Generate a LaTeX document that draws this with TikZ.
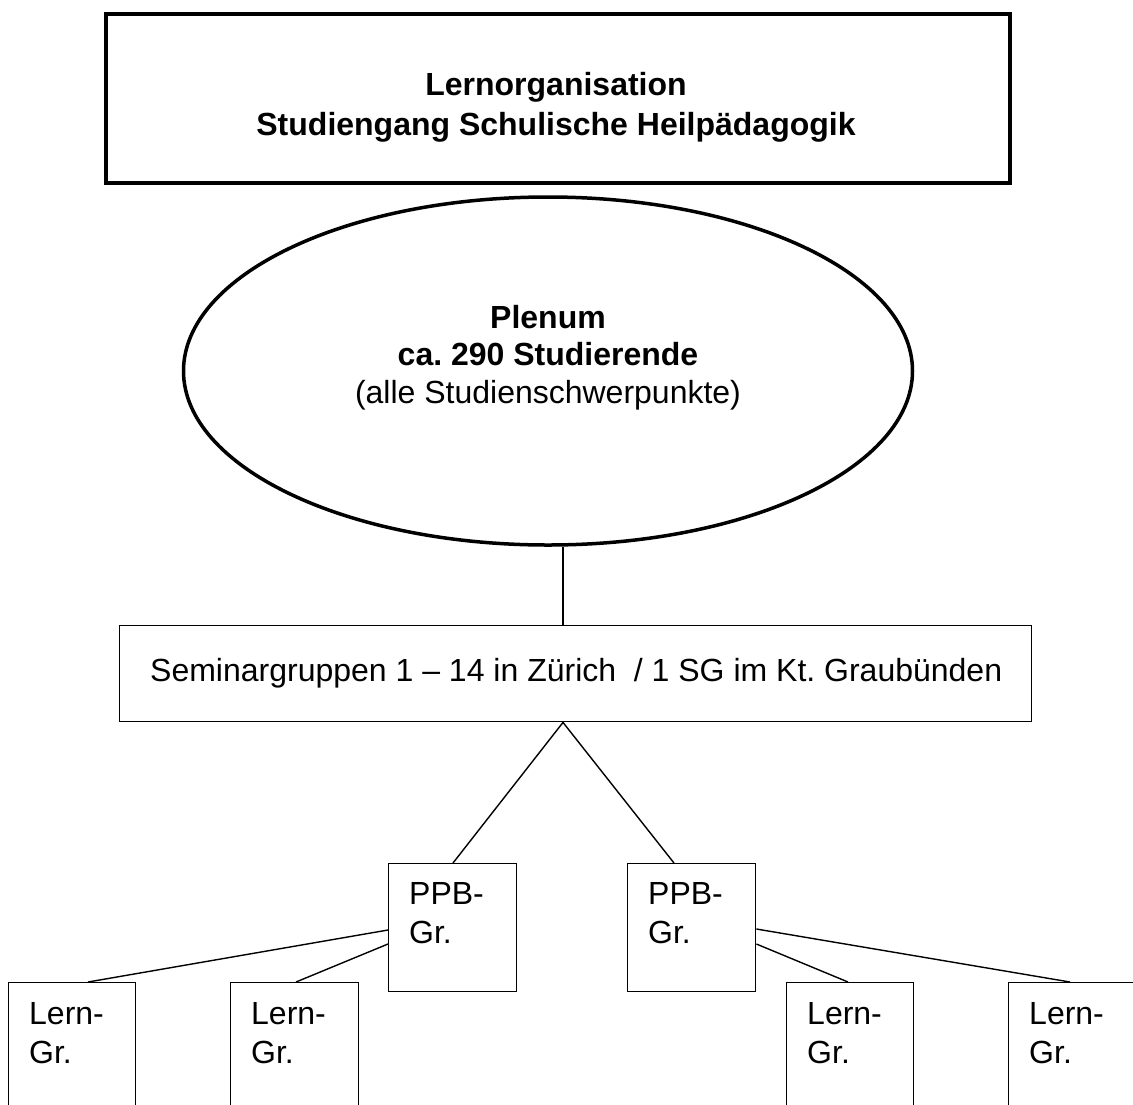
\documentclass[tikz,border=0pt]{standalone}
\usepackage{fontspec}
\setmainfont{Liberation Sans}
\usetikzlibrary{shapes.geometric,calc}
\frenchspacing
\begin{document}
\begin{tikzpicture}[x=1pt,y=-1pt,
  thinbox/.style={draw, line width=1.4pt, rectangle, inner sep=0pt, anchor=north west},
  txt/.style={font=\fontsize{32}{38.5}\selectfont, inner sep=0pt, align=left, anchor=base west},
  ctxt/.style={font=\fontsize{32}{39}\selectfont, inner sep=0pt, align=center, anchor=base},
  conn/.style={line width=1.4pt}]
\useasboundingbox (0,0) rectangle (1133,1104);
\clip (0,0) rectangle (1133,1104);
% title box
\node[draw, line width=4pt, rectangle, inner sep=0pt, anchor=north west,
      minimum width=904pt, minimum height=169pt] (title) at (104,12) {};
\node[ctxt, font=\fontsize{32}{40}\selectfont\bfseries] (titletext) at (556,135)
  {Lernorganisation\\Studiengang Schulische Heilpädagogik};
% plenum ellipse
\node[ellipse, draw, line width=3.5pt, inner sep=0pt,
      minimum width=729pt, minimum height=348pt] (plenum) at (548,371) {};
\node[ctxt, font=\fontsize{32}{37.5}\selectfont] (plenumtext) at (548,403)
  {\textbf{Plenum}\\\textbf{ca. 290 Studierende}\\(alle Studienschwerpunkte)};
% seminar box
\node[thinbox, minimum width=912pt, minimum height=96pt] (sem) at (119,625) {};
\node[txt] (semtext) at (150,681)
  {Seminargruppen 1 – 14 in Zürich \ / 1 SG im Kt. Graubünden};
% PPB boxes
\node[thinbox, minimum width=128pt, minimum height=128pt] (ppbL) at (388,863) {};
\node[thinbox, minimum width=128pt, minimum height=128pt] (ppbR) at (627,863) {};
\node[txt] (ppbLtext) at (409,943) {PPB-\\Gr.};
\node[txt] (ppbRtext) at (648,943) {PPB-\\Gr.};
% Lern boxes
\node[thinbox, minimum width=127pt, minimum height=160pt] (lg1) at (8,982) {};
\node[thinbox, minimum width=128pt, minimum height=160pt] (lg2) at (230,982) {};
\node[thinbox, minimum width=127pt, minimum height=160pt] (lg3) at (786,982) {};
\node[thinbox, minimum width=160pt, minimum height=160pt] (lg4) at (1008,982) {};
\node[txt] (lg1text) at (29,1063) {Lern-\\Gr.};
\node[txt] (lg2text) at (251,1063) {Lern-\\Gr.};
\node[txt] (lg3text) at (807,1063) {Lern-\\Gr.};
\node[txt] (lg4text) at (1029,1063) {Lern-\\Gr.};
% connectors
\coordinate (semtop) at ($(sem.north west)+(444,0)$);
\coordinate (semapex) at ($(sem.south west)+(444,0)$);
\draw[conn] (semtop) -- (semtop |- plenum.south);
\draw[conn] (semapex) -- ($(ppbL.north west)+(65,0)$);
\draw[conn] (semapex) -- ($(ppbR.north west)+(47,0)$);
\draw[conn] ($(ppbL.north west)+(0,67)$) -- ($(lg1.north west)+(80,0)$);
\draw[conn] ($(ppbL.north west)+(0,81)$) -- ($(lg2.north west)+(66,0)$);
\draw[conn] ($(ppbR.north east)+(0,66)$) -- ($(lg4.north west)+(62,0)$);
\draw[conn] ($(ppbR.north east)+(0,81)$) -- ($(lg3.north west)+(62,0)$);
\end{tikzpicture}
\end{document}
